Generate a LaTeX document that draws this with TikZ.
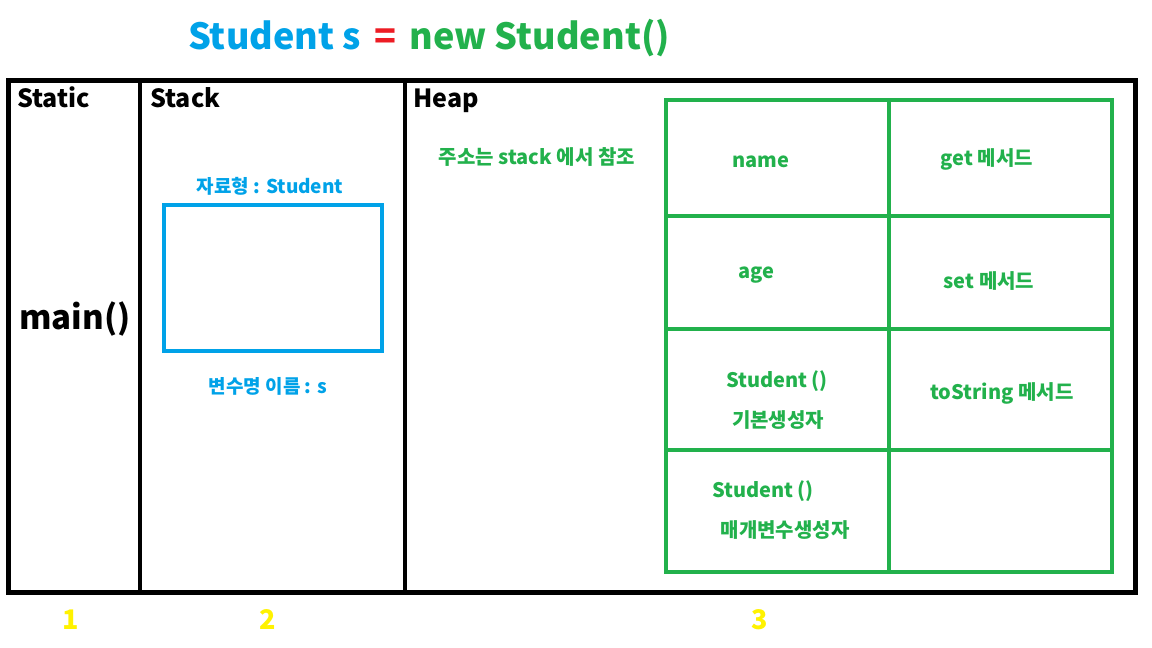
\documentclass[tikz,border=0pt]{standalone}
\usepackage{fontspec}
\setmainfont{Noto Sans CJK KR}
\usetikzlibrary{calc}

\definecolor{pblue}{HTML}{00A2E8}
\definecolor{pgreen}{HTML}{22B14C}
\definecolor{pred}{HTML}{ED1C24}
\definecolor{pyellow}{HTML}{FFF200}

\tikzset{
	area/.style={font=\bfseries\fontsize{25}{30}\selectfont, anchor=base west, inner sep=0pt},
	glabel/.style={font=\bfseries\fontsize{20}{24}\selectfont, text=pgreen},
	blabel/.style={font=\bfseries\fontsize{19}{23}\selectfont, text=pblue},
	num/.style={font=\bfseries\fontsize{27}{32}\selectfont, text=pyellow}
}

\begin{document}
\begin{tikzpicture}[x=1pt, y=-1pt]
				\useasboundingbox (0,0) rectangle (1152,648);
				
				% title
				\node[font=\bfseries\fontsize{36}{42}\selectfont] (title) at (429,38)
					{\textcolor{pblue}{Student s} \hspace{5pt}\textcolor{pred}{=} \hspace{5pt}\textcolor{pgreen}{new Student()}};
				
				% memory areas
				\coordinate (A) at (8,80);
				\coordinate (B) at (1135,592);
				\draw[line width=5pt] (A) rectangle (B);
				\draw[line width=4pt] (140,80) -- (140,592);
				\draw[line width=4pt] (405,80) -- (405,592);
				
				\node[area] (static) at (17,107) {Static};
				\node[area] (stack) at (150,107) {Stack};
				\node[area] (heap) at (413,107) {Heap};
				
				\node[font=\bfseries\fontsize{33}{38}\selectfont] (main) at (75,319) {main()};
				
				% stack variable
				\draw[pblue, line width=4pt] (164,205) rectangle (382,351);
				\node[blabel] (type) at (270,186) {자료형 : Student};
				\node[blabel] (var) at (268,386) {변수명 이름 : s};
				
				% heap object
				\node[glabel] (addr) at (537,157) {주소는 stack 에서 참조};
				
				\begin{scope}[pgreen, line width=4pt]
					\draw (666,100) rectangle (1112,572);
					\draw (889,100) -- (889,572);
					\draw (666,216) -- (1112,216);
					\draw (666,329) -- (1112,329);
					\draw (666,450) -- (1112,450);
				\end{scope}
				
				\node[glabel] (name) at (761,162) {name};
				\node[glabel] (get) at (987,159) {get 메서드};
				\node[glabel] (age) at (756,275) {age};
				\node[glabel] (set) at (989,281) {set 메서드};
				\node[glabel] (ctor) at (777,381) {Student ()};
				\node[glabel] (ctorname) at (778,420) {기본생성자};
				\node[glabel] (tostr) at (1002,393) {toString 메서드};
				\node[glabel] (pctor) at (763,491) {Student ()};
				\node[glabel] (pctorname) at (785,530) {매개변수생성자};
				
				% area numbers
				\node[num] (one) at (71,620) {1};
				\node[num] (two) at (268,620) {2};
				\node[num] (three) at (760,620) {3};
			\end{tikzpicture}
\end{document}
